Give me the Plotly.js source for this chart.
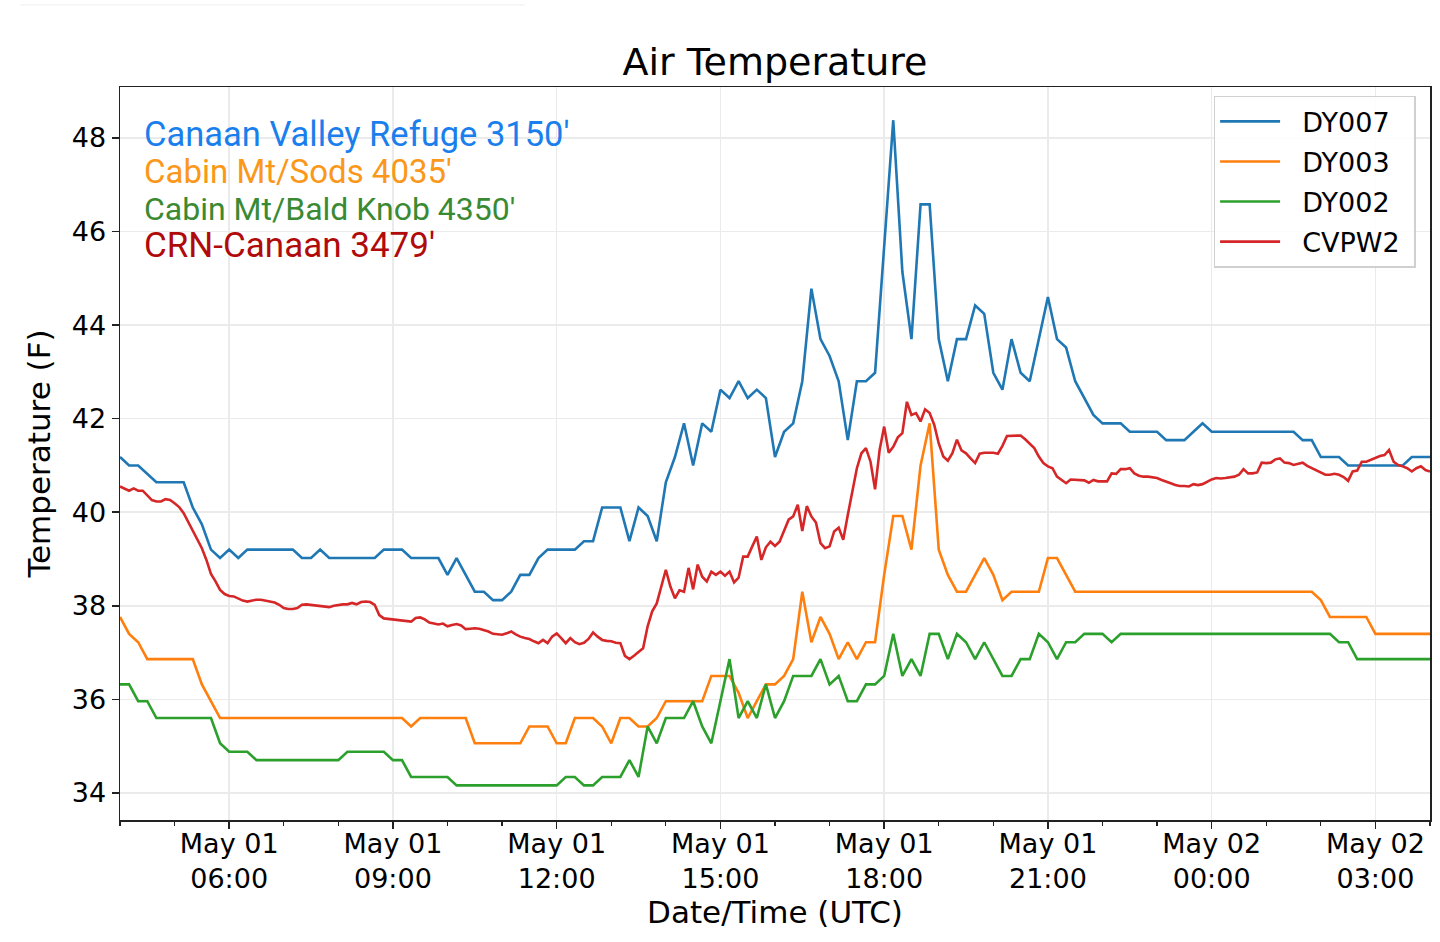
<!DOCTYPE html>
<html>
<head>
<meta charset="utf-8">
<script src="https://cdn.plot.ly/plotly-3.0.1.min.js"></script>
<style>
  html, body { margin: 0; padding: 0; background: #fff; }
  #chart { width: 1440px; height: 942px; }
</style>
</head>
<body>
<div id="chart"></div>
<script>
// station readings, May 01 04:00 UTC to May 02 04:00 UTC
// DY stations every 10 minutes, one row per hour
var dy007 = [
    41.18, 41.00, 41.00, 40.82, 40.64, 40.64,
    40.64, 40.64, 40.10, 39.74, 39.20, 39.02,
    39.20, 39.02, 39.20, 39.20, 39.20, 39.20,
    39.20, 39.20, 39.02, 39.02, 39.20, 39.02,
    39.02, 39.02, 39.02, 39.02, 39.02, 39.20,
    39.20, 39.20, 39.02, 39.02, 39.02, 39.02,
    38.66, 39.02, 38.66, 38.30, 38.30, 38.12,
    38.12, 38.30, 38.66, 38.66, 39.02, 39.20,
    39.20, 39.20, 39.20, 39.38, 39.38, 40.10,
    40.10, 40.10, 39.38, 40.10, 39.92, 39.38,
    40.64, 41.18, 41.90, 41.00, 41.90, 41.72,
    42.62, 42.44, 42.80, 42.44, 42.62, 42.44,
    41.18, 41.72, 41.90, 42.80, 44.78, 43.70,
    43.34, 42.80, 41.54, 42.80, 42.80, 42.98,
    45.68, 48.38, 45.14, 43.70, 46.58, 46.58,
    43.70, 42.80, 43.70, 43.70, 44.42, 44.24,
    42.98, 42.62, 43.70, 42.98, 42.80, 43.70,
    44.60, 43.70, 43.52, 42.80, 42.44, 42.08,
    41.90, 41.90, 41.90, 41.72, 41.72, 41.72,
    41.72, 41.54, 41.54, 41.54, 41.72, 41.90,
    41.72, 41.72, 41.72, 41.72, 41.72, 41.72,
    41.72, 41.72, 41.72, 41.72, 41.54, 41.54,
    41.18, 41.18, 41.18, 41.00, 41.00, 41.00,
    41.00, 41.00, 41.00, 41.00, 41.18, 41.18,
    41.18
];

var dy003 = [
    37.76, 37.40, 37.22, 36.86, 36.86, 36.86,
    36.86, 36.86, 36.86, 36.32, 35.96, 35.60,
    35.60, 35.60, 35.60, 35.60, 35.60, 35.60,
    35.60, 35.60, 35.60, 35.60, 35.60, 35.60,
    35.60, 35.60, 35.60, 35.60, 35.60, 35.60,
    35.60, 35.60, 35.42, 35.60, 35.60, 35.60,
    35.60, 35.60, 35.60, 35.06, 35.06, 35.06,
    35.06, 35.06, 35.06, 35.42, 35.42, 35.42,
    35.06, 35.06, 35.60, 35.60, 35.60, 35.42,
    35.06, 35.60, 35.60, 35.42, 35.42, 35.60,
    35.96, 35.96, 35.96, 35.96, 35.96, 36.50,
    36.50, 36.50, 36.14, 35.60, 35.96, 36.32,
    36.32, 36.50, 36.86, 38.30, 37.22, 37.76,
    37.40, 36.86, 37.22, 36.86, 37.22, 37.22,
    38.66, 39.92, 39.92, 39.20, 41.00, 41.90,
    39.20, 38.66, 38.30, 38.30, 38.66, 39.02,
    38.66, 38.12, 38.30, 38.30, 38.30, 38.30,
    39.02, 39.02, 38.66, 38.30, 38.30, 38.30,
    38.30, 38.30, 38.30, 38.30, 38.30, 38.30,
    38.30, 38.30, 38.30, 38.30, 38.30, 38.30,
    38.30, 38.30, 38.30, 38.30, 38.30, 38.30,
    38.30, 38.30, 38.30, 38.30, 38.30, 38.30,
    38.12, 37.76, 37.76, 37.76, 37.76, 37.76,
    37.40, 37.40, 37.40, 37.40, 37.40, 37.40,
    37.40
];

var dy002 = [
    36.32, 36.32, 35.96, 35.96, 35.60, 35.60,
    35.60, 35.60, 35.60, 35.60, 35.60, 35.06,
    34.88, 34.88, 34.88, 34.70, 34.70, 34.70,
    34.70, 34.70, 34.70, 34.70, 34.70, 34.70,
    34.70, 34.88, 34.88, 34.88, 34.88, 34.88,
    34.70, 34.70, 34.34, 34.34, 34.34, 34.34,
    34.34, 34.16, 34.16, 34.16, 34.16, 34.16,
    34.16, 34.16, 34.16, 34.16, 34.16, 34.16,
    34.16, 34.34, 34.34, 34.16, 34.16, 34.34,
    34.34, 34.34, 34.70, 34.34, 35.42, 35.06,
    35.60, 35.60, 35.60, 35.96, 35.42, 35.06,
    35.96, 36.86, 35.60, 35.96, 35.60, 36.32,
    35.60, 35.96, 36.50, 36.50, 36.50, 36.86,
    36.32, 36.50, 35.96, 35.96, 36.32, 36.32,
    36.50, 37.40, 36.50, 36.86, 36.50, 37.40,
    37.40, 36.86, 37.40, 37.22, 36.86, 37.22,
    36.86, 36.50, 36.50, 36.86, 36.86, 37.40,
    37.22, 36.86, 37.22, 37.22, 37.40, 37.40,
    37.40, 37.22, 37.40, 37.40, 37.40, 37.40,
    37.40, 37.40, 37.40, 37.40, 37.40, 37.40,
    37.40, 37.40, 37.40, 37.40, 37.40, 37.40,
    37.40, 37.40, 37.40, 37.40, 37.40, 37.40,
    37.40, 37.40, 37.22, 37.22, 36.86, 36.86,
    36.86, 36.86, 36.86, 36.86, 36.86, 36.86,
    36.86
];

// CVPW2 every 5 minutes, one row per hour
var cvpw2 = [
    40.55, 40.50, 40.46, 40.51, 40.46, 40.46, 40.37, 40.26, 40.23, 40.23, 40.28, 40.26,
    40.19, 40.11, 39.98, 39.80, 39.59, 39.42, 39.23, 38.98, 38.68, 38.52, 38.34, 38.25,
    38.21, 38.20, 38.15, 38.11, 38.09, 38.11, 38.13, 38.13, 38.11, 38.09, 38.07, 38.02,
    37.95, 37.93, 37.93, 37.95, 38.02, 38.03, 38.02, 38.00, 38.00, 37.98, 37.97, 38.00,
    38.02, 38.03, 38.03, 38.06, 38.03, 38.08, 38.09, 38.08, 38.02, 37.80, 37.73, 37.72,
    37.70, 37.69, 37.68, 37.67, 37.66, 37.74, 37.75, 37.71, 37.64, 37.62, 37.60, 37.62,
    37.56, 37.59, 37.61, 37.58, 37.50, 37.51, 37.52, 37.51, 37.48, 37.45, 37.40, 37.39,
    37.38, 37.41, 37.45, 37.39, 37.34, 37.31, 37.29, 37.24, 37.20, 37.27, 37.20, 37.34,
    37.41, 37.31, 37.20, 37.31, 37.22, 37.18, 37.21, 37.29, 37.43, 37.34, 37.27, 37.25,
    37.24, 37.21, 37.20, 36.93, 36.86, 36.93, 37.02, 37.09, 37.56, 37.88, 38.05, 38.41,
    38.77, 38.41, 38.16, 38.33, 38.30, 38.81, 38.35, 38.88, 38.62, 38.52, 38.73, 38.66,
    38.73, 38.64, 38.73, 38.50, 38.60, 39.05, 39.05, 39.27, 39.48, 38.98, 39.25, 39.37,
    39.28, 39.37, 39.59, 39.84, 39.91, 40.16, 39.60, 40.13, 39.91, 39.78, 39.34, 39.23,
    39.27, 39.59, 39.67, 39.41, 39.94, 40.48, 40.94, 41.26, 41.37, 41.08, 40.49, 41.33,
    41.83, 41.27, 41.40, 41.60, 41.69, 42.36, 42.08, 42.12, 41.94, 42.20, 42.12, 41.87,
    41.47, 41.19, 41.10, 41.26, 41.55, 41.32, 41.26, 41.15, 41.05, 41.25, 41.27, 41.27,
    41.27, 41.25, 41.42, 41.63, 41.63, 41.63, 41.64, 41.56, 41.47, 41.37, 41.19, 41.05,
    40.98, 40.94, 40.76, 40.69, 40.62, 40.70, 40.69, 40.69, 40.68, 40.63, 40.69, 40.66,
    40.66, 40.66, 40.83, 40.82, 40.92, 40.92, 40.94, 40.83, 40.78, 40.76, 40.76, 40.75,
    40.73, 40.69, 40.66, 40.62, 40.58, 40.56, 40.56, 40.55, 40.60, 40.58, 40.60, 40.65,
    40.70, 40.73, 40.72, 40.73, 40.74, 40.76, 40.80, 40.92, 40.83, 40.83, 40.85, 41.06,
    41.05, 41.06, 41.13, 41.15, 41.06, 41.05, 41.01, 41.03, 41.06, 40.99, 40.94, 40.90,
    40.85, 40.80, 40.80, 40.82, 40.80, 40.75, 40.67, 40.87, 40.89, 41.08, 41.08, 41.12,
    41.17, 41.20, 41.22, 41.33, 41.08, 41.01, 40.98, 40.94, 40.87, 40.94, 40.98, 40.90,
    40.87
];

var seriesNames = ["DY007", "DY003", "DY002", "CVPW2"];
var seriesColors = ["#1f77b4", "#ff7f0e", "#2ca02c", "#d62728"];

var tickVals = ["2019-05-01 06:00", "2019-05-01 09:00", "2019-05-01 12:00", "2019-05-01 15:00",
                "2019-05-01 18:00", "2019-05-01 21:00", "2019-05-02 00:00", "2019-05-02 03:00"];
var tickText = ["May 01<br>06:00", "May 01<br>09:00", "May 01<br>12:00", "May 01<br>15:00",
                "May 01<br>18:00", "May 01<br>21:00", "May 02<br>00:00", "May 02<br>03:00"];

var stationLabels = ["Canaan Valley Refuge 3150'", "Cabin Mt/Sods 4035'",
                     "Cabin Mt/Bald Knob 4350'", "CRN-Canaan 3479'"];
var stationColors = ["#1a7fec", "#fb9719", "#3a8a34", "#b00a0a"];
var stationSizes = [34.5, 33, 32, 35];

// timestamps from 04:00 UTC at a fixed step
function stamps(n, stepMin) {
    var out = [];
    var base = Date.UTC(2019, 4, 1, 4, 0);
    for (var i = 0; i < n; i++) {
        var d = new Date(base + i * stepMin * 60000);
        out.push(d.toISOString().slice(0, 16).replace("T", " "));
    }
    return out;
}

var allValues = [dy007, dy003, dy002, cvpw2];
var steps = [10, 10, 10, 5];

var plotData = [];
for (var i = 0; i < allValues.length; i++) {
    plotData.push({
        type: "scatter",
        mode: "lines",
        // a little room around the legend label
        name: "\u00a0\u00a0" + seriesNames[i] + "\u00a0",
        legendgroup: seriesNames[i],
        x: stamps(allValues[i].length, steps[i]),
        y: allValues[i],
        line: {color: seriesColors[i], width: 2.6}
    });
}

// station names as one block of coloured lines
var lines = [];
for (var k = 0; k < stationLabels.length; k++) {
    lines.push("<span style='color:" + stationColors[k] + ";font-size:" + stationSizes[k] + "px'>" +
               stationLabels[k] + "</span>");
}

var tickFont = {family: "DejaVu Sans", size: 27, color: "#000"};

var layout = {
    width: 1440,
    height: 942,
    margin: {l: 120, r: 10, t: 87, b: 122},
    paper_bgcolor: "#fff",
    plot_bgcolor: "#fff",
    title: {
        text: "Air Temperature",
        font: {family: "DejaVu Sans", size: 38, color: "#000"},
        xref: "paper", x: 0.5, xanchor: "center",
        yref: "container", y: 0.934, yanchor: "middle"
    },
    xaxis: {
        type: "date",
        range: ["2019-05-01 04:00", "2019-05-02 04:00"],
        tickmode: "array",
        tickvals: tickVals,
        ticktext: tickText,
        ticks: "outside",
        ticklen: 7,
        tickwidth: 1.5,
        tickcolor: "#222",
        tickfont: tickFont,
        ticklabelstandoff: -8,
        showgrid: true,
        gridcolor: "#ebebeb",
        gridwidth: 1.5,
        showline: true,
        linecolor: "#222",
        linewidth: 1.5,
        mirror: true,
        zeroline: false,
        minor: {
            tickmode: "linear",
            tick0: "2019-05-01 04:00",
            dtick: 3600000,
            ticks: "outside",
            ticklen: 4,
            tickwidth: 1.2,
            tickcolor: "#222",
            showgrid: false
        },
        title: {
            text: "Date/Time (UTC)",
            font: {family: "DejaVu Sans", size: 31, color: "#000"},
            standoff: 6
        }
    },
    yaxis: {
        range: [33.42, 49.09],
        tickmode: "array",
        tickvals: [34, 36, 38, 40, 42, 44, 46, 48],
        ticks: "outside",
        ticklen: 7,
        tickwidth: 1.5,
        tickcolor: "#222",
        tickfont: tickFont,
        showgrid: true,
        gridcolor: "#ebebeb",
        gridwidth: 1.5,
        showline: true,
        linecolor: "#222",
        linewidth: 1.5,
        mirror: true,
        zeroline: false,
        title: {
            text: "Temperature (F)",
            font: {family: "DejaVu Sans", size: 31, color: "#000"},
            standoff: 12
        }
    },
    showlegend: true,
    legend: {
        x: 0.989, y: 0.988,
        xanchor: "right", yanchor: "top",
        bgcolor: "rgba(255,255,255,0.85)",
        bordercolor: "#d0d0d0",
        borderwidth: 1.5,
        font: {family: "DejaVu Sans", size: 27, color: "#000"},
        traceorder: "grouped",
        tracegroupgap: 2,
        itemwidth: 60
    },
    annotations: [{
        xref: "paper", yref: "paper",
        x: 0.0165, y: 0.8588,
        xanchor: "left", yanchor: "middle",
        align: "left",
        text: lines.join("<br>"),
        showarrow: false,
        font: {family: "Roboto", size: 28.5, color: "#000"}
    }],
    shapes: [{
        type: "line", xref: "paper", yref: "paper",
        x0: -0.076, x1: 0.309, y0: 1.112, y1: 1.112,
        line: {color: "#eeeeee", width: 1}
    }]
};

Plotly.newPlot("chart", plotData, layout, {displayModeBar: false, staticPlot: true});
</script>
</body>
</html>
